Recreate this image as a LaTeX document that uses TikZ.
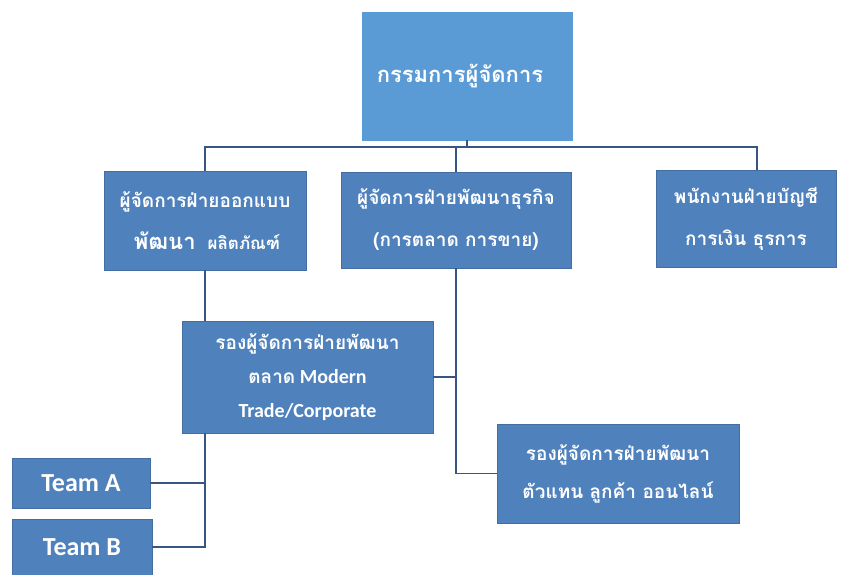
\documentclass[tikz,border=0pt]{standalone}
\usepackage{fontspec}
\setmainfont{Carlito}
\newfontfamily\thaifont[Script=Thai]{Loma}
\usepackage{tikz}
\usetikzlibrary{positioning}

\definecolor{boxblue}{RGB}{79,129,189}
\definecolor{topblue}{RGB}{91,155,213}
\definecolor{linkblue}{RGB}{56,86,130}

\begin{document}
\begin{tikzpicture}[
    x=1pt,y=-1pt,
    unitbox/.style={fill=boxblue, draw=boxblue!85!black, line width=0.6pt,
      text=white, align=center, inner sep=1pt,
      font=\thaifont\bfseries\fontsize{19}{42}\selectfont},
    topbox/.style={unitbox, fill=topblue, draw=topblue,
      font=\thaifont\bfseries\fontsize{22}{26}\selectfont},
    teambox/.style={unitbox, font=\bfseries\fontsize{26}{28}\selectfont},
    link/.style={draw=linkblue, line width=1.8pt}
  ]
    \useasboundingbox (0,0) rectangle (849,575);

    \node[topbox, minimum width=210, minimum height=128] (md) at (467,76)
      {กรรมการผู้จัดการ\hspace*{14pt}};

    \node[unitbox, minimum width=202, minimum height=99, text width=198] (design) at (205,220.5)
      {ผู้จัดการฝ่ายออกแบบ\\\hspace*{4pt}{\fontsize{22}{42}\selectfont พัฒนา}\hspace{12pt}{\fontsize{17}{42}\selectfont ผลิตภัณฑ์}};
    \node[unitbox, minimum width=230, minimum height=96] (sales) at (456,220)
      {ผู้จัดการฝ่ายพัฒนาธุรกิจ\\(การตลาด การขาย)};
    \node[unitbox, minimum width=180, minimum height=97] (acct) at (746,218.5)
      {พนักงานฝ่ายบัญชี\\การเงิน ธุรการ};

    \node[unitbox, minimum width=251, minimum height=112,
      font=\bfseries\fontsize{20}{34}\selectfont] (trade) at (307.5,377)
      {{\thaifont\fontsize{19}{34}\selectfont รองผู้จัดการฝ่ายพัฒนา}\\{\thaifont\fontsize{19}{34}\selectfont ตลาด} Modern\\Trade/Corporate};
    \node[unitbox, minimum width=242, minimum height=99,
      font=\thaifont\bfseries\fontsize{19}{38}\selectfont] (online) at (618,473.5)
      {รองผู้จัดการฝ่ายพัฒนา\\ตัวแทน ลูกค้า ออนไลน์};

    \node[teambox, minimum width=138, minimum height=50] (teamA) at (81,483) {Team A};
    \node[teambox, minimum width=140, minimum height=56] (teamB) at (82,547) {Team B};

    \coordinate (bus) at (467,147);

    % top level
    \draw[link] (md) -- (bus);
    \draw[link] (bus) -| (design);
    \draw[link] (bus) -| (sales);
    \draw[link] (bus) -| ([xshift=11pt]acct.north);

    % design branch
    \draw[link] (design) -- (design |- trade.north);
    \draw[link] (design |- trade.south) |- (teamB.east);
    \draw[link] (teamA.east) -- (teamA.east -| design);

    % sales branch
    \draw[link] (sales.south) |- (online.west);
    \draw[link] (trade.east) -- (trade.east -| sales);
  \end{tikzpicture}
\end{document}
